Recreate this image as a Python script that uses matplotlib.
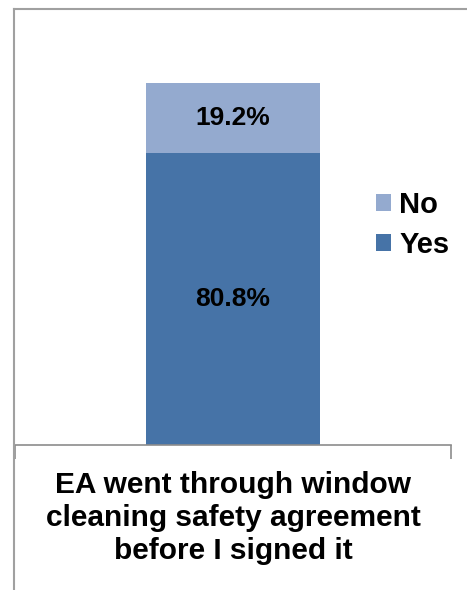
import matplotlib.pyplot as plt
from matplotlib.lines import Line2D

plt.rcParams["font.family"] = ["Liberation Sans", "DejaVu Sans"]

categories = ["EA went through window\ncleaning safety agreement\nbefore I signed it"]
series_names = ["Yes", "No"]
yes_values = [0.808]
no_values = [0.192]
colors = {"Yes": "#4673A7", "No": "#94AACF"}

fig = plt.figure(figsize=(4.67, 5.90), dpi=100)
W, H = 467, 590
ax = fig.add_axes([15 / W, 1 - 445 / H, (451 - 15) / W, (445 - 83) / H])

x = list(range(len(categories)))
bar_w = 0.40
b_yes = ax.bar(x, yes_values, width=bar_w, color=colors["Yes"], label="Yes")
b_no = ax.bar(x, no_values, width=bar_w, bottom=yes_values, color=colors["No"], label="No")

for rect, v in zip(b_yes, yes_values):
    ax.text(rect.get_x() + rect.get_width() / 2, v / 2, f"{v * 100:.1f}%",
            ha="center", va="center", fontsize=19, fontweight="bold")
for rect, v, b in zip(b_no, no_values, yes_values):
    ax.text(rect.get_x() + rect.get_width() / 2, b + v / 2, f"{v * 100:.1f}%",
            ha="center", va="center", fontsize=19, fontweight="bold")

ax.set_xlim(-0.5, 0.5)
ax.set_ylim(0, 1)
ax.set_yticks([])
for s in ["left", "right", "top"]:
    ax.spines[s].set_visible(False)
ax.spines["bottom"].set_color("#8c8c8c")
ax.spines["bottom"].set_linewidth(1.2)

ax.set_xticks(x, labels=categories)
ax.tick_params(axis="x", which="major", length=0, pad=19)
ax.set_xticks([-0.5, 0.5], minor=True)
ax.tick_params(axis="x", which="minor", length=10, color="#8c8c8c", width=1.2)
for lbl in ax.get_xticklabels():
    lbl.set_fontsize(21.5)
    lbl.set_fontweight("bold")
    lbl.set_linespacing(1.22)

handles = [b_no, b_yes]
leg = fig.legend(handles, ["No", "Yes"], loc="center left",
                 bbox_to_anchor=(376 / W, 1 - 225 / H), frameon=False,
                 borderaxespad=0, borderpad=0,
                 prop={"size": 21, "weight": "bold"}, handlelength=0.5,
                 handleheight=0.5, handletextpad=0.3, labelspacing=0.4)

# chart area border
fig.add_artist(Line2D([14 / W, 14 / W], [0, 1 - 9 / H], color="#a0a0a0", lw=1.5))
fig.add_artist(Line2D([14 / W, 1], [1 - 9 / H, 1 - 9 / H], color="#a0a0a0", lw=1.5))

fig.savefig("out.png", dpi=100)
